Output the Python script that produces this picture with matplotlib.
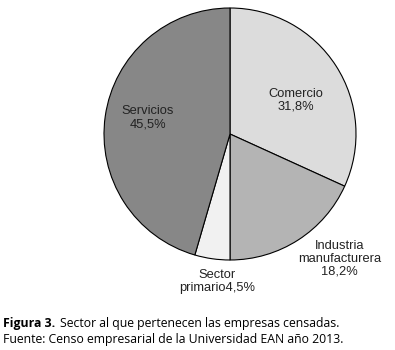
import matplotlib.pyplot as plt

sectores = ['Comercio', 'Industria\nmanufacturera', 'Sector\nprimario', 'Servicios']
porcentajes = [31.8, 18.2, 4.5, 45.5]
colores = ['#dcdcdc', '#b4b4b4', '#f1f1f1', '#878787']

# where each label sits (data coords, pie radius = 1)
pos_etiquetas = [(0.52, 0.27), (0.87, -0.99), (-0.10, -1.17), (-0.65, 0.13)]


def texto_etiqueta(nombre, valor):
    txt = f"{valor:.1f}%".replace('.', ',')
    if nombre.startswith('Sector'):
        return nombre + txt
    return nombre + '\n' + txt


def main():
    fig = plt.figure(figsize=(3.95, 3.5), dpi=100)
    W, H = 395, 350
    cx, cy, r = 230, 134, 126
    ax = fig.add_axes([(cx - r) / W, (H - cy - r) / H, 2 * r / W, 2 * r / H])

    ax.pie(porcentajes, colors=colores, startangle=90, counterclock=False,
           radius=1, wedgeprops=dict(edgecolor='black', linewidth=0.8))
    ax.set_xlim(-1, 1)
    ax.set_ylim(-1, 1)
    ax.set_aspect('equal')
    ax.axis('off')

    for nombre, valor, (x, y) in zip(sectores, porcentajes, pos_etiquetas):
        ax.text(x, y, texto_etiqueta(nombre, valor), ha='center', va='center',
                fontsize=9.3, family='Liberation Sans', color='#222222',
                linespacing=1.1, clip_on=False)

    # caption
    fig.text(3 / W, 1 - 323 / H, 'Figura 3.', fontsize=8.8, weight='bold',
             family='Open Sans', va='center')
    fig.text(60 / W, 1 - 323 / H, 'Sector al que pertenecen las empresas censadas.',
             fontsize=8.8, family='Open Sans', va='center')
    fig.text(3 / W, 1 - 340 / H, 'Fuente: Censo empresarial de la Universidad EAN año 2013.',
             fontsize=8.8, family='Open Sans', va='center')

    fig.savefig('out.png', dpi=100)


if __name__ == "__main__":
    main()
